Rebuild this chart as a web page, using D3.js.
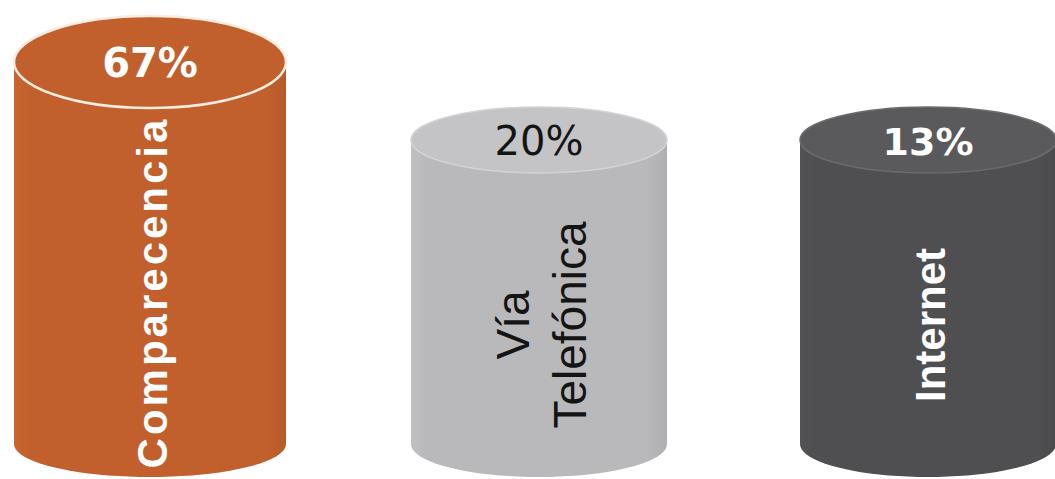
<!DOCTYPE html>
<html>
<head>
<meta charset="utf-8">
<script src="https://cdn.jsdelivr.net/npm/d3@7"></script>
<style>
  body { margin: 0; background: #fff; }
</style>
</head>
<body>
<div id="chart"></div>
<script>
// data
var categories = ["Comparecencia", "Vía Telefónica", "Internet"];
var values = [67, 20, 13];
var valueLabels = ["67%", "20%", "13%"];

// styles, one per cylinder
var bodyColors = ["#c1602d", "#b9b9bb", "#4f4f51"];
var topColors = ["#c1602d", "#c4c4c6", "#5a5a5c"];
var rimColors = ["#f9ebdd", "#d3d3d5", "#6b6b6d"];
var textColors = ["#ffffff", "#141414", "#ffffff"];

var svgWidth = 1055;
var svgHeight = 479;

var svg = d3.select("#chart").append("svg")
    .attr("width", svgWidth).attr("height", svgHeight);

var xScale = d3.scalePoint()
    .domain(categories)
    .range([150, 928]);

// the big one stands tall, the small ones share one height
var topScale = d3.scaleLinear().domain([20, 67]).range([140, 62]).clamp(true);
var ryScale = d3.scaleLinear().domain([20, 67]).range([33, 46]).clamp(true);
var rxScale = d3.scaleLinear().domain([20, 67]).range([128, 136]).clamp(true);
var baseY = 444;
var baseRy = 33;

var rows = categories.map(function(c, i) {
  return {cat: c, value: values[i], label: valueLabels[i], i: i};
});

// side shading
var defs = svg.append("defs");
rows.forEach(function(d) {
  var base = d3.color(bodyColors[d.i]);
  var g = defs.append("linearGradient").attr("id", "side" + d.i)
      .attr("x1", "0%").attr("x2", "100%").attr("y1", "0%").attr("y2", "0%");
  g.append("stop").attr("offset", "0%").attr("stop-color", base.brighter(0.12));
  g.append("stop").attr("offset", "6%").attr("stop-color", base);
  g.append("stop").attr("offset", "92%").attr("stop-color", base);
  g.append("stop").attr("offset", "100%").attr("stop-color", base.darker(0.15));
});

function bodyPath(d) {
  var cx = xScale(d.cat), rx = rxScale(d.value), cy = topScale(d.value);
  var p = d3.path();
  p.moveTo(cx - rx, cy);
  p.lineTo(cx - rx, baseY);
  // bottom rounded edge
  var steps = 40;
  for (var k = 1; k <= steps; k++) {
    var a = Math.PI - Math.PI * k / steps;
    p.lineTo(cx + rx * Math.cos(a), baseY + baseRy * Math.sin(a));
  }
  p.lineTo(cx + rx, cy);
  p.closePath();
  return p.toString();
}

var cyl = svg.selectAll("g.cyl")
    .data(rows)
    .enter()
    .append("g")
    .attr("class", "cyl");

cyl.append("path")
    .attr("d", bodyPath)
    .attr("fill", d => "url(#side" + d.i + ")");

cyl.append("ellipse")
    .attr("cx", d => xScale(d.cat))
    .attr("cy", d => topScale(d.value))
    .attr("rx", d => rxScale(d.value))
    .attr("ry", d => ryScale(d.value))
    .attr("fill", d => topColors[d.i])
    .attr("stroke", d => rimColors[d.i])
    .attr("stroke-width", d => d.i === 0 ? 2.5 : 1.5);

// percent on the lid
cyl.append("text")
    .attr("x", d => xScale(d.cat))
    .attr("y", d => topScale(d.value) + 15)
    .attr("text-anchor", "middle")
    .attr("font-family", "DejaVu Sans")
    .attr("font-weight", d => d.i === 1 ? "normal" : "bold")
    .attr("font-size", d => d.i === 2 ? 38 : 40)
    .attr("fill", d => textColors[d.i])
    .text(d => d.label);

// category name, running up the side
var names = cyl.append("g")
    .attr("transform", function(d) {
      var mid = (topScale(d.value) + ryScale(d.value) + baseY + baseRy) / 2;
      return "translate(" + (xScale(d.cat) + 2) + "," + mid + ") rotate(-90)";
    });

names.each(function(d) {
  var lines = d.cat.split(" ");
  var lineGap = 57;
  d3.select(this).selectAll("text")
    .data(lines)
    .enter()
    .append("text")
    .attr("x", 0)
    .attr("y", (l, j) => (j - (lines.length - 1) / 2) * lineGap)
    .attr("dy", "0.35em")
    .attr("text-anchor", "middle")
    .attr("font-family", "Liberation Sans, Arial, sans-serif")
    .attr("font-weight", d.i === 1 ? "normal" : "bold")
    .attr("font-size", d.i === 1 ? 46 : 42)
    .attr("letter-spacing", d.i === 0 ? 3 : 0)
    .attr("fill", textColors[d.i])
    .text(l => l);
});
</script>
</body>
</html>
